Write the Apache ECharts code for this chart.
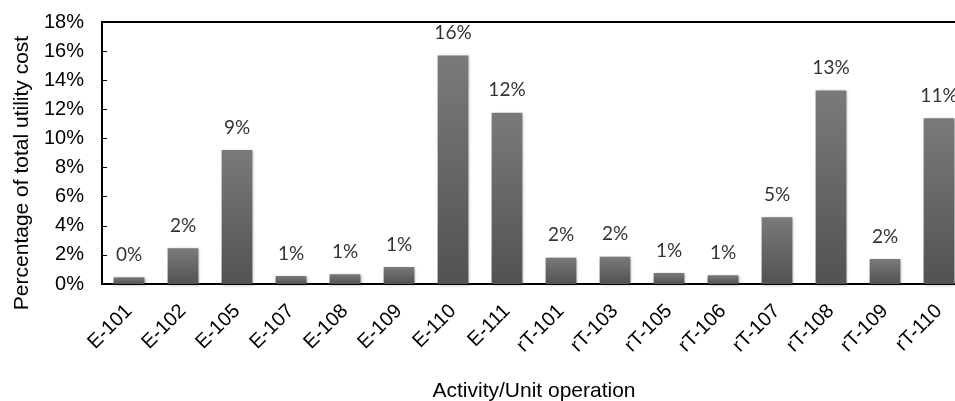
<!DOCTYPE html>
<html>
<head>
<meta charset="utf-8">
<script src="https://cdn.jsdelivr.net/npm/echarts@6/dist/echarts.min.js"></script>
<style>
  html, body { margin: 0; padding: 0; background: #fff; }
  #chart { width: 955px; height: 401px; }
</style>
</head>
<body>
<div id="chart"></div>
<script>
// categories (activity / unit operation)
const units = ['E-101', 'E-102', 'E-105', 'E-107', 'E-108', 'E-109', 'E-110', 'E-111',
  'rT-101', 'rT-103', 'rT-105', 'rT-106', 'rT-107', 'rT-108', 'rT-109', 'rT-110']
// share of total utility cost, in percent
const costShare = [0.46, 2.45, 9.2, 0.55, 0.67, 1.17, 15.7, 11.77,
  1.81, 1.88, 0.76, 0.6, 4.58, 13.3, 1.72, 11.38]
const yTicks = [0, 2, 4, 6, 8, 10, 12, 14, 16, 18]

const chart = echarts.init(document.getElementById('chart'))

const option = {
  animation: false,
  grid: {
    left: 102,
    top: 22,
    right: -11,
    bottom: 117,
    outerBoundsMode: 'none',
    show: true,
    borderColor: '#000',
    borderWidth: 2
  },
  xAxis: {
    type: 'category',
    data: units,
    name: 'Activity/Unit operation',
    nameLocation: 'middle',
    nameGap: 97,
    nameTextStyle: { fontFamily: 'Liberation Sans', fontSize: 21, color: '#000' },
    axisLine: { lineStyle: { color: '#000', width: 2 } },
    axisTick: { show: false },
    axisLabel: {
      rotate: 45,
      margin: 24,
      interval: 0,
      fontFamily: 'Liberation Sans',
      fontSize: 20,
      color: '#000'
    }
  },
  yAxis: {
    type: 'value',
    min: yTicks[0],
    max: yTicks[yTicks.length - 1],
    interval: 2,
    name: 'Percentage of total utility cost',
    nameLocation: 'middle',
    nameGap: 64,
    nameTextStyle: { fontFamily: 'Liberation Sans', fontSize: 21, color: '#000', padding: [0, 40, 0, 0] },
    axisLine: { show: true, lineStyle: { color: '#000', width: 2 } },
    axisTick: { show: true, inside: true, length: 5, lineStyle: { color: '#000' } },
    splitLine: { show: false },
    axisLabel: {
      formatter: '{value}%',
      margin: 18,
      fontFamily: 'Liberation Sans',
      fontSize: 20,
      color: '#000'
    }
  },
  series: [{
    type: 'bar',
    data: costShare,
    barWidth: '57%',
    itemStyle: {
      color: new echarts.graphic.LinearGradient(0, 0, 0, 1, [
        { offset: 0, color: '#7a7a7a' },
        { offset: 1, color: '#525252' }
      ]),
      shadowColor: 'rgba(0,0,0,0.35)',
      shadowBlur: 3,
      shadowOffsetX: 1,
      shadowOffsetY: 1
    },
    label: {
      show: true,
      position: 'top',
      distance: 13,
      formatter: p => Math.round(p.value) + '%',
      fontFamily: 'Lato',
      fontSize: 19,
      color: '#333'
    }
  }]
}

chart.setOption(option)
</script>
</body>
</html>
